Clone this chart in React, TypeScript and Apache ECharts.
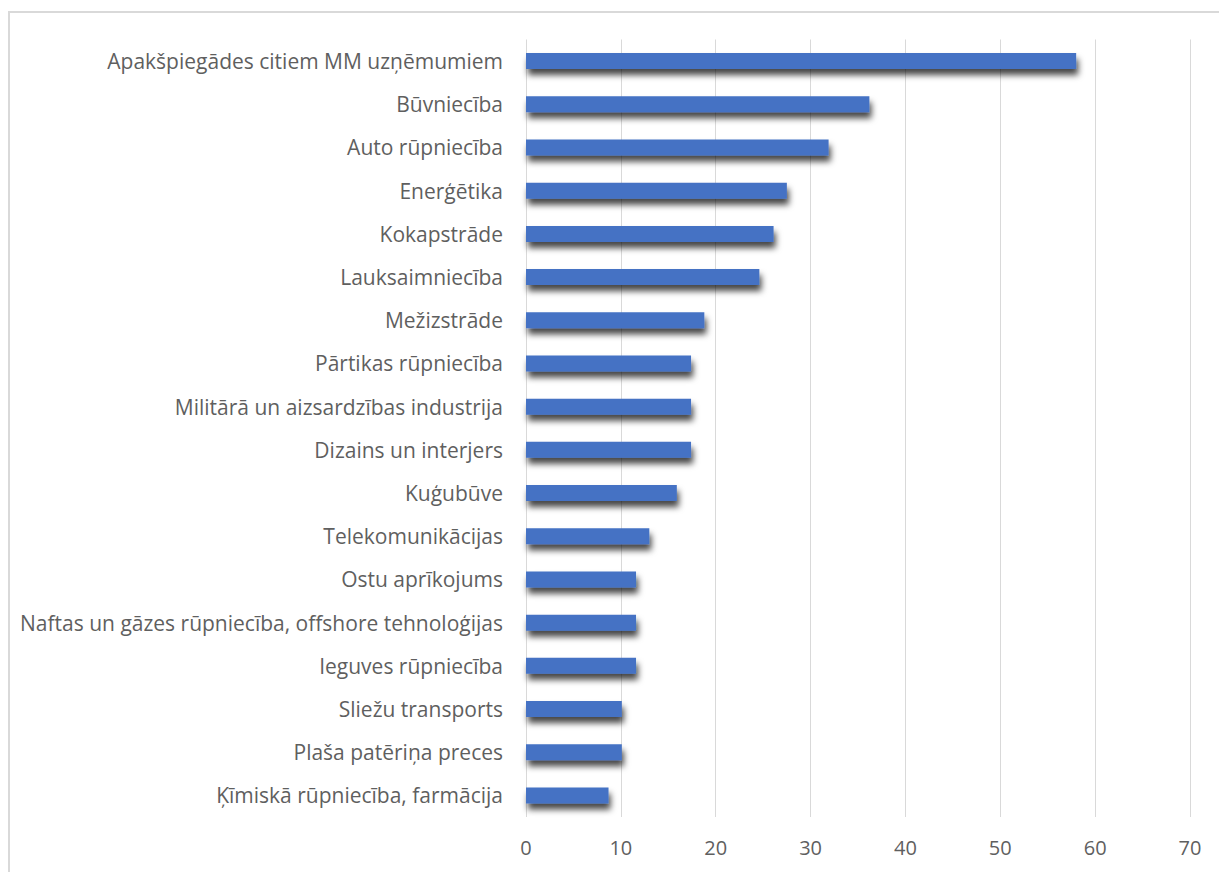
import React, { useEffect, useRef } from "react";
import * as echarts from "echarts";

const categories = [
  "Apakšpiegādes citiem MM uzņēmumiem",
  "Būvniecība",
  "Auto rūpniecība",
  "Enerģētika",
  "Kokapstrāde",
  "Lauksaimniecība",
  "Mežizstrāde",
  "Pārtikas rūpniecība",
  "Militārā un aizsardzības industrija",
  "Dizains un interjers",
  "Kuģubūve",
  "Telekomunikācijas",
  "Ostu aprīkojums",
  "Naftas un gāzes rūpniecība, offshore tehnoloģijas",
  "Ieguves rūpniecība",
  "Sliežu transports",
  "Plaša patēriņa preces",
  "Ķīmiskā rūpniecība, farmācija",
];

const values = [58.0, 36.2, 31.9, 27.5, 26.1, 24.6, 18.8, 17.4, 17.4, 17.4, 15.9, 13.0, 11.6, 11.6, 11.6, 10.1, 10.1, 8.7];

const xTicks = [0, 10, 20, 30, 40, 50, 60, 70];

export default function App() {
  const ref = useRef<HTMLDivElement>(null);
  useEffect(() => {
    if (!ref.current) return;
    const chart = echarts.init(ref.current, null, { renderer: "svg" });
    chart.setOption({
      animation: false,
      backgroundColor: "#ffffff",
      grid: { left: 526, right: 29, top: 39.5, bottom: 55, containLabel: false },
      graphic: [
        {
          type: "rect",
          shape: { x: 9, y: 12, width: 1300, height: 900 },
          style: { fill: "none", stroke: "#d9d9d9", lineWidth: 2 },
          silent: true,
        },
      ],
      xAxis: {
        type: "value",
        min: xTicks[0],
        max: xTicks[xTicks.length - 1],
        interval: 10,
        axisLine: { show: false },
        axisTick: { show: false },
        splitLine: { show: true, lineStyle: { color: "#d9d9d9", width: 1 } },
        axisLabel: {
          color: "#5f5f5f",
          fontSize: 20,
          fontFamily: "Open Sans",
          margin: 20,
        },
      },
      yAxis: {
        type: "category",
        inverse: true,
        data: categories,
        axisLine: { show: false },
        axisTick: { show: false },
        axisLabel: {
          color: "#5f5f5f",
          fontSize: 21,
          fontFamily: "Open Sans",
          margin: 23,
        },
      },
      series: [
        {
          type: "bar",
          data: values,
          barWidth: 16,
          itemStyle: {
            color: "#4472c4",
            shadowColor: "rgba(0,0,0,0.72)",
            shadowBlur: 6,
            shadowOffsetX: 2,
            shadowOffsetY: 6,
          },
        },
      ],
    });
    return () => chart.dispose();
  }, []);
  return (
    <div
      ref={ref}
      style={{ position: "absolute", left: 0, top: 0, width: 1219, height: 872 }}
    />
  );
}
